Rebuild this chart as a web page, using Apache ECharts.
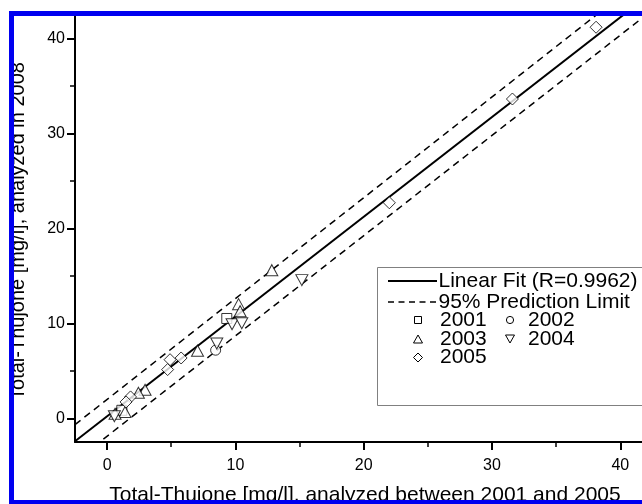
<!DOCTYPE html>
<html><head><meta charset="utf-8">
<script src="https://cdn.jsdelivr.net/npm/echarts@6/dist/echarts.min.js"></script>
<style>html,body{margin:0;padding:0;background:#fff}#c{width:642px;height:504px}</style>
</head><body><div id="c"></div>
<script>
// ---- data ----
const xTickValues = [0, 10, 20, 30, 40];
const yTickValues = [0, 10, 20, 30, 40];
const s2001 = [[9.33, 10.51], [1.15, 0.84]];
const s2002 = [[8.46, 7.17]];
const s2003 = [[12.84, 15.6], [10.25, 12.02], [10.37, 11.28], [7.05, 7.12], [2.96, 3.0], [2.44, 2.69], [1.4, 0.66], [0.62, 0.47]];
const s2004 = [[15.18, 14.55], [9.74, 9.91], [10.5, 10.01], [8.55, 7.87], [0.57, 0.21]];
const s2005 = [[38.11, 41.19], [31.59, 33.63], [22.0, 22.7], [5.77, 6.35], [4.91, 6.17], [4.72, 5.13], [1.83, 2.25], [1.48, 1.72]];
const fitLine = [[-2.5, -2.43], [42, 44.34]];
const upperLimit = [[-2.5, -0.67], [42, 46.59]];
const lowerLimit = [[-2.5, -4.53], [42, 42.47]];
const legendLabels = ['Linear Fit (R=0.9962)', '95% Prediction Limit', '2001', '2002', '2003', '2004', '2005'];
const xAxisTitle = 'Total-Thujone [mg/l], analyzed between 2001 and 2005';
const yAxisTitle = 'Total-Thujone [mg/l], analyzed in 2008';

// ---- chart ----
const FONT = '"Liberation Sans", Arial, sans-serif';
const chart = echarts.init(document.getElementById('c'), null, {renderer: 'canvas'});

function axisCommon(ticks) {
  return {
    type: 'value',
    axisLine: {show: true, onZero: false, lineStyle: {color: '#000', width: 2}},
    axisTick: {show: true, length: 8, lineStyle: {color: '#000', width: 2}, customValues: ticks},
    minorTick: {show: true, splitNumber: 2, length: 5, lineStyle: {color: '#000', width: 1.5}},
    splitLine: {show: false},
    minorSplitLine: {show: false},
    nameLocation: 'middle'
  };
}

const markerStyle = {color: '#fff', borderColor: '#000', borderWidth: 1};
const lg = {font: '21px ' + FONT, fill: '#000', textVerticalAlign: 'middle', textAlign: 'left'};

const option = {
  backgroundColor: '#fff',
  animation: false,
  grid: {left: 75, right: 0, top: 11, bottom: 62, containLabel: false, outerBoundsMode: 'none'},
  xAxis: Object.assign(axisCommon(xTickValues), {
    min: -2.5, max: 41.69,
    name: xAxisTitle, nameGap: 43,
    nameTextStyle: {color: '#000', fontSize: 21, fontFamily: FONT, padding: [0, 0, 0, 13]},
    axisLabel: {customValues: xTickValues, color: '#000', fontSize: 16, fontFamily: FONT, margin: 16}
  }),
  yAxis: Object.assign(axisCommon(yTickValues), {
    min: -2.5, max: 42.9,
    name: yAxisTitle, nameGap: 47,
    nameTextStyle: {color: '#000', fontSize: 20, fontFamily: FONT, padding: [0, 9, 0, 0]},
    axisLabel: {customValues: yTickValues, color: '#000', fontSize: 16, fontFamily: FONT, margin: 10}
  }),
  series: [
    {name: legendLabels[0], type: 'line', data: fitLine, symbol: 'none', clip: true,
     lineStyle: {color: '#000', width: 2}, z: 2},
    {name: legendLabels[1], type: 'line', data: upperLimit, symbol: 'none', clip: true,
     lineStyle: {color: '#000', width: 1.5, type: [7, 5]}, z: 2},
    {name: legendLabels[1] + ' ', type: 'line', data: lowerLimit, symbol: 'none', clip: true,
     lineStyle: {color: '#000', width: 1.5, type: [7, 5]}, z: 2},
    {name: legendLabels[2], type: 'scatter', data: s2001, symbol: 'rect', symbolSize: 10, itemStyle: markerStyle, z: 3},
    {name: legendLabels[3], type: 'scatter', data: s2002, symbol: 'circle', symbolSize: 10, itemStyle: markerStyle, z: 3},
    {name: legendLabels[4], type: 'scatter', data: s2003, symbol: 'triangle', symbolSize: [12, 11], itemStyle: markerStyle, z: 3},
    {name: legendLabels[5], type: 'scatter', data: s2004, symbol: 'triangle', symbolRotate: 180, symbolSize: [12, 11], itemStyle: markerStyle, z: 3},
    {name: legendLabels[6], type: 'scatter', data: s2005, symbol: 'diamond', symbolSize: [12, 12], itemStyle: markerStyle, z: 3}
  ],
  graphic: [
    // legend box
    {type: 'rect', z: 50, shape: {x: 377.5, y: 267.5, width: 300, height: 138}, style: {fill: '#fff', stroke: '#808080', lineWidth: 1}},
    {type: 'line', z: 51, shape: {x1: 388, y1: 281, x2: 437, y2: 281}, style: {stroke: '#000', lineWidth: 2}},
    {type: 'text', z: 51, x: 438.5, y: 281, style: Object.assign({text: legendLabels[0]}, lg)},
    {type: 'line', z: 51, shape: {x1: 388, y1: 302, x2: 437, y2: 302}, style: {stroke: '#000', lineWidth: 1.5, lineDash: [6, 4.5]}},
    {type: 'text', z: 51, x: 438.5, y: 302, style: Object.assign({text: legendLabels[1]}, lg)},
    {type: 'rect', z: 51, shape: {x: 414.5, y: 316.5, width: 7, height: 7}, style: {fill: '#fff', stroke: '#000', lineWidth: 1}},
    {type: 'text', z: 51, x: 440, y: 320, style: Object.assign({text: legendLabels[2]}, lg)},
    {type: 'circle', z: 51, shape: {cx: 510, cy: 320, r: 3.6}, style: {fill: '#fff', stroke: '#000', lineWidth: 1}},
    {type: 'text', z: 51, x: 528, y: 320, style: Object.assign({text: legendLabels[3]}, lg)},
    {type: 'polygon', z: 51, shape: {points: [[418, 335], [422.5, 343], [413.5, 343]]}, style: {fill: '#fff', stroke: '#000', lineWidth: 1}},
    {type: 'text', z: 51, x: 440, y: 339, style: Object.assign({text: legendLabels[4]}, lg)},
    {type: 'polygon', z: 51, shape: {points: [[505.5, 335], [514.5, 335], [510, 343]]}, style: {fill: '#fff', stroke: '#000', lineWidth: 1}},
    {type: 'text', z: 51, x: 528, y: 339, style: Object.assign({text: legendLabels[5]}, lg)},
    {type: 'polygon', z: 51, shape: {points: [[418, 353], [422.5, 357.5], [418, 362], [413.5, 357.5]]}, style: {fill: '#fff', stroke: '#000', lineWidth: 1}},
    {type: 'text', z: 51, x: 440, y: 357.5, style: Object.assign({text: legendLabels[6]}, lg)},
    // frame: white outer margin + blue border
    {type: 'rect', z: 90, shape: {x: 0, y: 0, width: 9, height: 504}, style: {fill: '#fff'}},
    {type: 'rect', z: 90, shape: {x: 0, y: 0, width: 642, height: 11}, style: {fill: '#fff'}},
    {type: 'rect', z: 100, shape: {x: 9, y: 11, width: 633, height: 5}, style: {fill: '#0000f0'}},
    {type: 'rect', z: 100, shape: {x: 9, y: 11, width: 5, height: 493}, style: {fill: '#0000f0'}},
    {type: 'rect', z: 100, shape: {x: 9, y: 500, width: 633, height: 4}, style: {fill: '#0000f0'}}
  ]
};
chart.setOption(option);
</script>
</body></html>
